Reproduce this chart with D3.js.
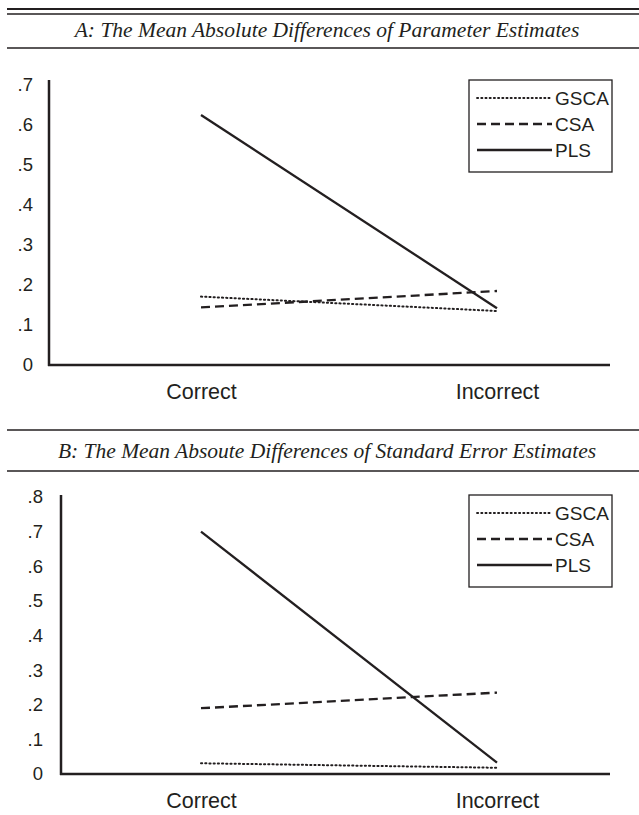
<!DOCTYPE html>
<html>
<head>
<meta charset="utf-8">
<script src="https://cdn.jsdelivr.net/npm/d3@7"></script>
<style>
  html, body { margin: 0; padding: 0; background: #fff; }
  svg { display: block; }
</style>
</head>
<body>
<svg id="chart" width="639" height="815"></svg>
<script>
// Conditions on the x-axis
const categories = ["Correct", "Incorrect"];
const seriesNames = ["GSCA", "CSA", "PLS"];

// Panel A: mean absolute differences of parameter estimates
const panelATitle = "A: The Mean Absolute Differences of Parameter Estimates";
const panelAGSCA = [0.171, 0.135];
const panelACSA  = [0.144, 0.185];
const panelAPLS  = [0.625, 0.142];
const panelATicks = [0, 0.1, 0.2, 0.3, 0.4, 0.5, 0.6, 0.7];

// Panel B: mean absolute differences of standard error estimates
const panelBTitle = "B: The Mean Absoute Differences of Standard Error Estimates";
const panelBGSCA = [0.031, 0.018];
const panelBCSA  = [0.190, 0.235];
const panelBPLS  = [0.700, 0.033];
const panelBTicks = [0, 0.1, 0.2, 0.3, 0.4, 0.5, 0.6, 0.7, 0.8];

const ink = "#231f20";
const sans = "'Liberation Sans', Arial, Helvetica, sans-serif";
const dashes = { GSCA: "1.2 3", CSA: "9 5", PLS: null };
const svg = d3.select("#chart");

function tickFmt(v) {
  return v === 0 ? "0" : d3.format(".1f")(v).replace(/^0/, "");
}

function panel(cfg) {
  const g = svg.append("g");

  // title band
  g.append("text")
    .attr("x", 327).attr("y", cfg.titleY)
    .attr("text-anchor", "middle")
    .attr("dominant-baseline", "central")
    .attr("font-family", "'Liberation Serif', 'Times New Roman', serif")
    .attr("font-style", "italic")
    .attr("font-size", 21.5)
    .attr("fill", ink)
    .text(cfg.title);

  const y = d3.scaleLinear().domain([0, cfg.yMax]).range([cfg.y0, cfg.yTop]);
  const x = d3.scalePoint().domain(categories).range([201, 497]);

  // y axis
  const yAxis = d3.axisLeft(y).tickValues(cfg.ticks).tickFormat(tickFmt).tickSize(0).tickPadding(cfg.tickPad);
  const ya = g.append("g").attr("transform", `translate(${cfg.axisX},0)`).call(yAxis);
  ya.select(".domain").remove();
  ya.selectAll("text")
    .attr("font-family", sans)
    .attr("font-size", 18.5).attr("fill", ink);
  g.append("line")
    .attr("x1", cfg.axisX).attr("x2", cfg.axisX)
    .attr("y1", cfg.axisTop).attr("y2", cfg.y0 + 1)
    .attr("stroke", ink).attr("stroke-width", 2.5);

  // x axis
  const xAxis = d3.axisBottom(x).tickSize(0).tickPadding(cfg.xPad);
  const xa = g.append("g").attr("transform", `translate(0,${cfg.y0})`).call(xAxis);
  xa.select(".domain").remove();
  xa.selectAll("text")
    .attr("font-family", sans)
    .attr("font-size", 21.5).attr("fill", ink);
  g.append("line")
    .attr("x1", cfg.axisX - 1).attr("x2", 610)
    .attr("y1", cfg.y0).attr("y2", cfg.y0)
    .attr("stroke", ink).attr("stroke-width", 2.5);

  // series lines
  const line = d3.line().x((d, i) => x(categories[i])).y(d => y(d));
  cfg.series.forEach(s => {
    g.append("path")
      .datum(s.values)
      .attr("d", line)
      .attr("fill", "none")
      .attr("stroke", ink)
      .attr("stroke-width", s.name === "GSCA" ? 2 : 2.3)
      .attr("stroke-linecap", s.name === "GSCA" ? "round" : "butt")
      .attr("stroke-dasharray", dashes[s.name]);
  });

  // legend
  const lg = g.append("g");
  lg.append("rect")
    .attr("x", 469).attr("y", cfg.legTop)
    .attr("width", 143).attr("height", 92)
    .attr("fill", "#fff").attr("stroke", ink).attr("stroke-width", 1.3);
  seriesNames.forEach((n, i) => {
    const ly = cfg.legTop + 18 + i * 26;
    lg.append("line")
      .attr("x1", 477).attr("x2", 552).attr("y1", ly).attr("y2", ly)
      .attr("stroke", ink)
      .attr("stroke-width", n === "GSCA" ? 1.8 : 2.3)
      .attr("stroke-linecap", n === "GSCA" ? "round" : "butt")
      .attr("stroke-dasharray", dashes[n]);
    lg.append("text")
      .attr("x", 555).attr("y", ly)
      .attr("dominant-baseline", "central")
      .attr("font-family", sans)
      .attr("font-size", 19).attr("fill", ink)
      .text(n);
  });
}

// rules around the titles
svg.append("line").attr("x1", 7).attr("x2", 639).attr("y1", 9).attr("y2", 9).attr("stroke", ink).attr("stroke-width", 2);
svg.append("line").attr("x1", 7).attr("x2", 639).attr("y1", 14).attr("y2", 14).attr("stroke", ink).attr("stroke-width", 1.5);
svg.append("line").attr("x1", 7).attr("x2", 639).attr("y1", 48).attr("y2", 48).attr("stroke", ink).attr("stroke-width", 1.5);
svg.append("line").attr("x1", 7).attr("x2", 639).attr("y1", 430).attr("y2", 430).attr("stroke", ink).attr("stroke-width", 1.5);
svg.append("line").attr("x1", 7).attr("x2", 639).attr("y1", 471).attr("y2", 471).attr("stroke", ink).attr("stroke-width", 1.5);

panel({
  title: panelATitle, titleY: 30,
  yMax: 0.7, y0: 365, yTop: 85, axisTop: 80, axisX: 49, tickPad: 16, xPad: 19,
  ticks: panelATicks, legTop: 80,
  series: [
    { name: "GSCA", values: panelAGSCA },
    { name: "CSA", values: panelACSA },
    { name: "PLS", values: panelAPLS }
  ]
});

panel({
  title: panelBTitle, titleY: 451,
  yMax: 0.8, y0: 774, yTop: 497, axisTop: 495, axisX: 61, tickPad: 18, xPad: 19,
  ticks: panelBTicks, legTop: 495,
  series: [
    { name: "GSCA", values: panelBGSCA },
    { name: "CSA", values: panelBCSA },
    { name: "PLS", values: panelBPLS }
  ]
});
</script>
</body>
</html>
